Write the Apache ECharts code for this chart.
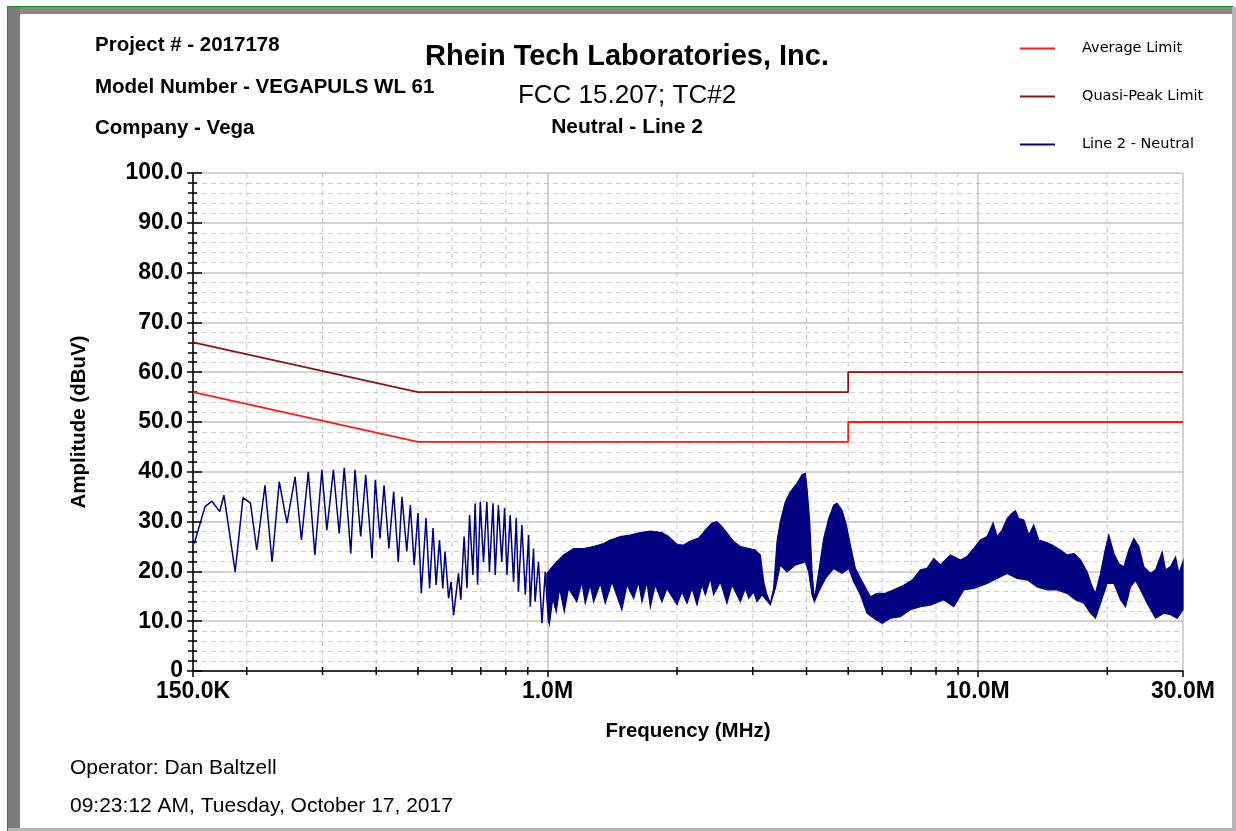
<!DOCTYPE html>
<html>
<head>
<meta charset="utf-8">
<script src="https://cdn.jsdelivr.net/npm/echarts@6/dist/echarts.min.js"></script>
<style>
  html, body { margin: 0; padding: 0; background: #fff; }
  #main { width: 1236px; height: 831px; }
</style>
</head>
<body>
<div id="main"></div>
<script>
// limit lines (FCC 15.207), frequency in MHz
const limitFreq = [0.15, 0.5, 5, 5, 30];
const avgLimit = [56, 46, 46, 50, 50];
const qpLimit = [66, 56, 56, 60, 60];

// measured trace, low band (distinct lobes)
const lobeFreq = [0.151, 0.160, 0.166, 0.173, 0.177, 0.188, 0.196, 0.204, 0.211, 0.2205,
  0.229, 0.238, 0.248, 0.259, 0.268, 0.278, 0.288, 0.299, 0.307, 0.318,
  0.328, 0.337, 0.349, 0.357, 0.368, 0.378, 0.391, 0.398, 0.408, 0.417,
  0.428, 0.439, 0.450, 0.459, 0.471, 0.480, 0.490, 0.500, 0.509, 0.522,
  0.532, 0.542, 0.551, 0.561, 0.571, 0.578, 0.589, 0.597, 0.605, 0.621,
  0.629, 0.640, 0.650, 0.659, 0.671, 0.679, 0.688, 0.698, 0.710, 0.723,
  0.733, 0.747, 0.756, 0.769, 0.783, 0.795, 0.805, 0.819, 0.834, 0.846,
  0.856, 0.872, 0.888, 0.904, 0.912, 0.928, 0.936, 0.953, 0.971, 0.988,
  1.006, 1.024, 1.043, 1.061];
const lobeAmp = [25.6, 33.0, 34.1, 32.0, 35.3, 19.9, 34.8, 33.7, 24.3, 37.3,
  21.9, 38.0, 29.7, 39.0, 26.3, 40.0, 23.3, 40.4, 28.3, 40.4,
  27.6, 40.8, 23.6, 40.4, 27.0, 39.4, 22.6, 38.4, 26.6, 37.3,
  24.6, 36.0, 21.9, 35.0, 24.0, 33.3, 21.3, 31.7, 15.6, 30.7,
  16.6, 28.7, 17.3, 26.3, 16.6, 24.0, 14.6, 17.9, 11.2, 19.6,
  14.3, 27.0, 16.6, 31.3, 19.3, 33.7, 17.3, 34.0, 21.9, 34.0,
  19.9, 33.7, 19.3, 33.3, 21.9, 32.7, 19.3, 31.3, 17.9, 30.7,
  15.9, 29.3, 15.3, 27.3, 12.9, 24.6, 13.9, 21.9, 9.6, 19.9,
  9.6, 19.3, 12.6, 20.9];

// measured trace, dense band above 1 MHz: upper and lower envelope
const upperFreq = [0.997, 1.042, 1.090, 1.150, 1.213, 1.280, 1.350, 1.399, 1.476, 1.557,
  1.643, 1.734, 1.845, 1.912, 2.000, 2.072, 2.148, 2.245, 2.327, 2.412,
  2.477, 2.544, 2.637, 2.708, 2.807, 2.909, 3.041, 3.124, 3.180, 3.237,
  3.296, 3.355, 3.416, 3.477, 3.572, 3.668, 3.802, 3.905, 3.975, 4.011,
  4.069, 4.120, 4.172, 4.270, 4.385, 4.503, 4.626, 4.710, 4.838, 4.951,
  5.058, 5.196, 5.337, 5.630, 5.834, 6.100, 6.379, 6.730, 7.037, 7.360,
  7.625, 7.902, 8.189, 8.641, 9.117, 9.448, 9.792, 10.147, 10.515, 10.859,
  11.094, 11.396, 11.704, 12.021, 12.237, 12.455, 12.797, 13.144, 13.500, 13.865,
  14.368, 14.892, 15.572, 16.138, 16.726, 17.331, 17.961, 18.451, 18.782, 19.291,
  19.816, 20.171, 20.717, 21.282, 21.858, 22.450, 23.063, 23.689, 24.331, 25.211,
  25.895, 26.842, 27.322, 28.062, 28.828, 29.344, 30.0];
const upperAmp = [19.6, 21.6, 23.3, 24.6, 24.6, 25.0, 25.6, 26.3, 27.0, 27.3,
  27.8, 28.1, 27.8, 27.0, 25.4, 25.3, 26.1, 26.7, 28.3, 29.7,
  30.0, 29.0, 27.3, 26.0, 25.0, 24.7, 24.3, 23.3, 18.0, 15.3,
  13.6, 16.6, 26.0, 30.0, 34.0, 36.0, 37.7, 39.4, 39.7, 36.7,
  30.0, 19.9, 14.3, 19.9, 26.6, 30.6, 33.3, 33.7, 32.3, 29.3,
  25.3, 20.6, 18.6, 14.9, 15.6, 15.6, 16.3, 17.2, 18.2, 20.3,
  20.6, 22.6, 21.3, 23.3, 22.3, 23.0, 24.6, 26.3, 27.0, 29.7,
  27.0, 28.3, 30.6, 31.7, 32.2, 30.6, 30.3, 27.3, 29.3, 26.3,
  25.9, 25.3, 24.3, 23.3, 23.6, 22.3, 19.9, 16.9, 15.6, 19.6,
  24.6, 27.3, 23.6, 21.6, 20.9, 24.3, 26.6, 25.0, 20.9, 19.6,
  20.3, 23.9, 20.3, 21.0, 22.9, 19.6, 22.0];
const lowerFreq = [0.997, 1.011, 1.029, 1.048, 1.067, 1.094, 1.119, 1.170, 1.202, 1.224,
  1.257, 1.280, 1.327, 1.362, 1.412, 1.489, 1.530, 1.586, 1.628, 1.658,
  1.703, 1.734, 1.780, 1.845, 1.895, 2.000, 2.054, 2.110, 2.167, 2.226,
  2.286, 2.327, 2.391, 2.433, 2.522, 2.613, 2.685, 2.807, 2.884, 2.936,
  3.015, 3.069, 3.152, 3.296,
  3.385, 3.477, 3.603, 3.768, 3.975, 4.047, 4.120, 4.172, 4.270,
  4.425, 4.626, 4.838, 5.014, 5.150, 5.337, 5.530, 5.731, 5.992, 6.266,
  6.610, 6.975, 7.360, 7.762, 8.337, 8.796, 9.281, 9.792, 10.515, 11.094,
  11.704, 12.346, 13.027, 13.745, 14.497, 15.298, 16.138, 16.874, 17.645, 18.287,
  18.782, 19.291, 19.990, 20.717, 21.474, 22.055, 22.652, 23.268, 23.903, 24.768,
  25.895, 27.078, 28.062, 29.081, 30.0];
const lowerAmp = [15.3, 9.6, 14.6, 11.9, 16.6, 11.9, 16.6, 13.9, 17.9, 13.6,
  17.3, 13.9, 17.6, 13.6, 17.9, 12.3, 17.3, 14.6, 17.9, 13.9,
  17.9, 12.9, 17.3, 13.9, 16.6, 13.3, 15.9, 13.6, 16.6, 13.3,
  17.3, 15.3, 18.6, 15.3, 17.9, 13.6, 17.3, 13.9, 16.6, 14.6,
  15.9, 13.9, 15.3, 13.3,
  16.6, 21.3, 19.9, 21.3, 21.9, 19.9, 15.3, 13.9, 15.9,
  18.6, 20.6, 19.6, 20.6, 17.9, 15.3, 11.6, 10.6, 9.6, 10.6,
  10.9, 12.3, 12.9, 13.2, 14.3, 12.9, 16.3, 16.6, 17.6, 18.6,
  19.6, 18.6, 18.3, 16.9, 16.3, 16.3, 15.6, 14.3, 13.6, 11.6,
  10.6, 13.6, 17.6, 17.6, 14.3, 12.9, 16.9, 18.2, 16.3, 13.6,
  10.6, 11.6, 11.3, 10.6, 12.3];

// dashed vertical grid lines / minor ticks of the log axis
const minorFreq = [0.2, 0.3, 0.4, 0.5, 0.6, 0.7, 0.8, 0.9,
  2, 3, 4, 5, 6, 7, 8, 9, 20];

const FONT = '"Liberation Sans", Arial, sans-serif';
const zip = (a, b) => a.map((v, i) => [v, b[i]]);

const bandPoly = zip(upperFreq, upperAmp).concat(zip(lowerFreq, lowerAmp).reverse());

const chart = echarts.init(document.getElementById('main'));

const option = {
  animation: false,
  backgroundColor: '#fff',
  grid: { left: 193, right: 53, top: 173, bottom: 160 },
  legend: {
    orient: 'vertical',
    left: 1020,
    top: 41,
    padding: 0,
    icon: 'rect',
    itemWidth: 35,
    itemHeight: 2,
    itemGap: 33,
    data: ['Average Limit', 'Quasi-Peak Limit', 'Line 2 - Neutral'],
    textStyle: { fontFamily: '"DejaVu Sans", sans-serif', fontSize: 14.5, color: '#000', padding: [0, 0, 0, 22] }
  },
  xAxis: {
    type: 'log',
    logBase: 10,
    min: 0.15,
    max: 30,
    name: 'Frequency (MHz)',
    nameLocation: 'middle',
    nameGap: 50,
    nameTextStyle: { fontFamily: FONT, fontSize: 20.5, fontWeight: 'bold', color: '#000' },
    axisLine: { lineStyle: { color: '#000', width: 1.5 } },
    axisTick: { length: 6, lineStyle: { color: '#000', width: 1.5 } },
    axisLabel: {
      margin: 9,
      fontFamily: FONT, fontSize: 23, fontWeight: 'bold', color: '#000',
      formatter: function (v) {
        return v < 1 ? (v * 1000).toFixed(1) + 'K' : v.toFixed(1) + 'M';
      }
    },
    splitLine: { show: true, lineStyle: { color: '#c4c4c4', width: 1.5 } }
  },
  yAxis: [{
    type: 'value',
    min: 0,
    max: 100,
    interval: 10,
    name: 'Amplitude (dBuV)',
    nameLocation: 'middle',
    nameGap: 103,
    nameTextStyle: { fontFamily: FONT, fontSize: 20.5, fontWeight: 'bold', color: '#000' },
    axisLine: { show: true, lineStyle: { color: '#000', width: 1.5 } },
    axisTick: { show: true, length: 6, lineStyle: { color: '#000', width: 1.5 } },
    minorTick: { show: true, splitNumber: 5, length: 5, lineStyle: { color: '#000', width: 1.5 } },
    axisLabel: {
      margin: 10,
      fontFamily: FONT, fontSize: 23, fontWeight: 'bold', color: '#000',
      formatter: function (v) { return v === 0 ? '0' : v.toFixed(1); }
    },
    splitLine: { show: true, lineStyle: { color: '#c4c4c4', width: 1.5 } },
    minorSplitLine: { show: true, lineStyle: { color: '#cdcdcd', type: [5, 4] } }
  }, {
    type: 'value',
    min: 0,
    max: 100,
    interval: 10,
    position: 'left',
    axisLine: { show: false },
    axisTick: { show: true, inside: true, length: 9, lineStyle: { color: '#000', width: 1.5 } },
    minorTick: { show: true, splitNumber: 5, length: 4, lineStyle: { color: '#000', width: 1.5 } },
    axisLabel: { show: false },
    splitLine: { show: false }
  }],
  series: [
    {
      name: 'minor grid',
      type: 'custom',
      silent: true,
      z: 1,
      data: minorFreq.map(f => [f, 0]),
      renderItem: function (params, api) {
        const f = api.value(0);
        const bot = api.coord([f, 0]);
        const top = api.coord([f, 100]);
        return {
          type: 'group',
          children: [{
            type: 'line',
            shape: { x1: bot[0], y1: top[1], x2: bot[0], y2: bot[1] },
            style: { stroke: '#c8c8c8', lineWidth: 1, lineDash: [5, 4] }
          }, {
            type: 'line',
            shape: { x1: bot[0], y1: bot[1] - 4, x2: bot[0], y2: bot[1] + 4 },
            style: { stroke: '#000', lineWidth: 1.5 }
          }]
        };
      }
    },
    {
      name: 'Average Limit',
      type: 'line',
      symbol: 'none',
      z: 4,
      color: '#ff1a1a',
      lineStyle: { width: 1.8 },
      data: zip(limitFreq, avgLimit)
    },
    {
      name: 'Quasi-Peak Limit',
      type: 'line',
      symbol: 'none',
      z: 4,
      color: '#8b1414',
      lineStyle: { width: 1.8 },
      data: zip(limitFreq, qpLimit)
    },
    {
      name: 'Line 2 - Neutral',
      type: 'line',
      symbol: 'none',
      z: 3,
      color: '#000080',
      lineStyle: { width: 1.5 },
      data: zip(lobeFreq, lobeAmp)
    },
    {
      name: 'band',
      type: 'custom',
      z: 3,
      silent: true,
      data: bandPoly,
      renderItem: function (params, api) {
        if (params.dataIndex !== 0) return null;
        const pts = bandPoly.map(p => api.coord(p));
        return {
          type: 'polygon',
          shape: { points: pts },
          style: { fill: '#000080', stroke: '#000080', lineWidth: 1.2 }
        };
      }
    }
  ],
  graphic: [
    // window frame
    { type: 'rect', shape: { x: 7, y: 6, width: 1226, height: 1 }, style: { fill: '#1c8a1c' } },
    { type: 'rect', shape: { x: 7, y: 6, width: 1, height: 825 }, style: { fill: '#1c8a1c' } },
    { type: 'rect', shape: { x: 8, y: 7, width: 1225, height: 7 }, style: { fill: '#8a8a8a' } },
    { type: 'rect', shape: { x: 8, y: 7, width: 12, height: 824 }, style: { fill: '#7c7c7c' } },
    { type: 'rect', shape: { x: 1232, y: 7, width: 4, height: 824 }, style: { fill: '#b4b4b4' } },
    { type: 'rect', shape: { x: 8, y: 828, width: 1228, height: 3 }, style: { fill: '#b4b4b4' } },
    // header texts
    { type: 'text', x: 95, y: 45, style: { text: 'Project # - 2017178', font: 'bold 20.5px ' + FONT, fill: '#000', verticalAlign: 'middle' } },
    { type: 'text', x: 95, y: 87, style: { text: 'Model Number - VEGAPULS WL 61', font: 'bold 20.5px ' + FONT, fill: '#000', verticalAlign: 'middle' } },
    { type: 'text', x: 95, y: 128, style: { text: 'Company - Vega', font: 'bold 20.5px ' + FONT, fill: '#000', verticalAlign: 'middle' } },
    { type: 'text', x: 627, y: 57, style: { text: 'Rhein Tech Laboratories, Inc.', font: 'bold 29px ' + FONT, fill: '#000', align: 'center', verticalAlign: 'middle' } },
    { type: 'text', x: 627, y: 96, style: { text: 'FCC 15.207; TC#2', font: '26px ' + FONT, fill: '#000', align: 'center', verticalAlign: 'middle' } },
    { type: 'text', x: 627, y: 127, style: { text: 'Neutral - Line 2', font: 'bold 21px ' + FONT, fill: '#000', align: 'center', verticalAlign: 'middle' } },
    { type: 'text', x: 70, y: 768, style: { text: 'Operator: Dan Baltzell', font: '21px ' + FONT, fill: '#000', verticalAlign: 'middle' } },
    { type: 'text', x: 70, y: 806, style: { text: '09:23:12 AM, Tuesday, October 17, 2017', font: '21px ' + FONT, fill: '#000', verticalAlign: 'middle' } }
  ]
};

chart.setOption(option);
</script>
</body>
</html>
